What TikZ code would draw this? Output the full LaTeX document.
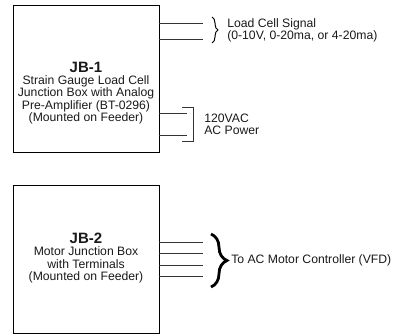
\documentclass[tikz,border=0pt]{standalone}
\usepackage{fontspec}
\setmainfont{Liberation Sans}
\usepackage{xcolor}
\usetikzlibrary{decorations.pathreplacing}

\begin{document}
\begin{tikzpicture}[x=1pt, y=-1pt, line width=0.6pt,
  jbox/.style={draw, minimum width=146pt, minimum height=147pt, inner sep=0pt},
  jtext/.style={align=center, inner sep=0pt, text=black!90, font=\fontsize{12.2}{12.3}\selectfont},
  lbl/.style={align=left, anchor=west, inner sep=0pt, text=black!90, font=\fontsize{12.2}{12.3}\selectfont},
  wire/.style={black!80}]
\useasboundingbox (0,0) rectangle (395,335);

% junction box 1
\node[jbox] (jb1) at (86,78.5) {};
\node[jtext] (jb1txt) at (86,93) {{\fontsize{15}{16}\selectfont\bfseries JB-1}\\Strain Gauge Load Cell\\Junction Box with Analog\\Pre-Amplifier (BT-0296)\\(Mounted on Feeder)};

% signal out
\coordinate (s1) at (203,23);
\coordinate (s2) at (203,39);
\draw[wire] (jb1.east |- s1) -- (s1);
\draw[wire] (jb1.east |- s2) -- (s2);
\draw[decorate, decoration={brace, amplitude=6pt}, line width=1pt] (212,17) -- (212,43);
\node[lbl] (sig) at (227,30) {Load Cell Signal\\(0-10V, 0-20ma, or 4-20ma)};

% power in
\coordinate (p1) at (187,113);
\coordinate (p2) at (187,135);
\draw[wire] (jb1.east |- p1) -- (p1);
\draw[wire] (jb1.east |- p2) -- (p2);
\draw[wire] (182,107) -- (193,107) -- (193,141) -- (182,141);
\node[lbl] (pwr) at (204,124.5) {120VAC\\AC Power};

% junction box 2
\node[jbox, minimum height=148pt] (jb2) at (86,259) {};
\node[jtext] (jb2txt) at (86,258) {{\fontsize{15}{16}\selectfont\bfseries JB-2}\\Motor Junction Box\\with Terminals\\(Mounted on Feeder)};

% motor leads
\foreach \y [count=\i] in {242,253,265,276} {
  \coordinate (m\i) at (203,\y);
  \draw[wire] (jb2.east |- m\i) -- (m\i);
}
\draw[decorate, decoration={brace, amplitude=16pt, aspect=0.5}, line width=2.8pt] (211,234) -- (211,287);
\node[lbl] (vfd) at (231,260) {To AC Motor Controller (VFD)};
\end{tikzpicture}
\end{document}
